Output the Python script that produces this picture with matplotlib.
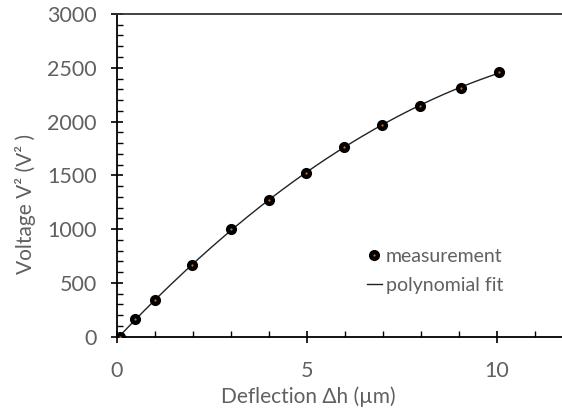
import numpy as np
import matplotlib
matplotlib.use("Agg")
import matplotlib.pyplot as plt
from matplotlib.ticker import MultipleLocator
from matplotlib.lines import Line2D
from matplotlib.legend_handler import HandlerTuple

plt.rcParams['font.family'] = ['Lato', 'DejaVu Sans']

deflection = [0.09, 0.48, 1.0, 1.99, 3.01, 4.01, 4.98, 5.98, 6.98, 7.98, 9.07, 10.07]
voltage_sq = [0, 162, 341, 669, 1001, 1271, 1519, 1766, 1968, 2142, 2315, 2461]

gray = '#606060'
fig = plt.figure(figsize=(5.62, 4.12), dpi=100)
ax = fig.add_axes([0.2077, 0.1828, 0.7923, 0.7833])

coef = np.polyfit(deflection, voltage_sq, 2)
xf = np.linspace(0.0, deflection[-1], 200)
ax.plot(xf, np.polyval(coef, xf), color='#222222', lw=1.0, zorder=2)
ax.plot(deflection, voltage_sq, 'o', ms=7, mfc='black', mec='black', ls='none', zorder=3)
ax.plot(deflection, voltage_sq, 'o', ms=1.6, mfc='#d46a12', mec='none', ls='none', zorder=4)

ax.set_xlim(0, 11.72)
ax.set_ylim(0, 3000)
ax.xaxis.set_major_locator(MultipleLocator(5))
ax.xaxis.set_minor_locator(MultipleLocator(1))
ax.yaxis.set_major_locator(MultipleLocator(500))
ax.yaxis.set_minor_locator(MultipleLocator(100))
ax.tick_params(which='major', direction='inout', length=9, width=1.2, color='black',
               labelsize=15.5, labelcolor=gray)
ax.tick_params(which='minor', direction='in', length=4.5, width=1.0, color='black')
ax.tick_params(axis='x', which='major', pad=13)
ax.tick_params(axis='y', which='major', pad=10)
ax.spines['right'].set_visible(False)
for s in ['left', 'bottom', 'top']:
    ax.spines[s].set_linewidth(1.3)
    ax.spines[s].set_color('black')
ax.spines['top'].set_color('#333333')

ax.set_ylabel('Voltage V² (V² )', fontsize=15, color=gray, va='center')
ax.yaxis.set_label_coords(-0.206, 0.411)
ax.set_xlabel('Deflection Δh (µm)', fontsize=15, color=gray, va='center')
ax.xaxis.set_label_coords(0.43, -0.186)

h_meas = (Line2D([], [], marker='o', ms=7, mfc='black', mec='black', ls='none'),
          Line2D([], [], marker='o', ms=1.6, mfc='#d46a12', mec='none', ls='none'))
h_fit = Line2D([], [], color='#222222', lw=1.0)
leg = ax.legend([h_meas, h_fit], ['measurement', 'polynomial fit'],
                handler_map={tuple: HandlerTuple(ndivide=1)},
                loc='upper left', bbox_to_anchor=(0.544, 0.30), frameon=False,
                fontsize=14, handlelength=0.78, handletextpad=0.2, labelspacing=0.65,
                borderaxespad=0)
for t in leg.get_texts():
    t.set_color(gray)

fig.savefig('out.png', dpi=100)
